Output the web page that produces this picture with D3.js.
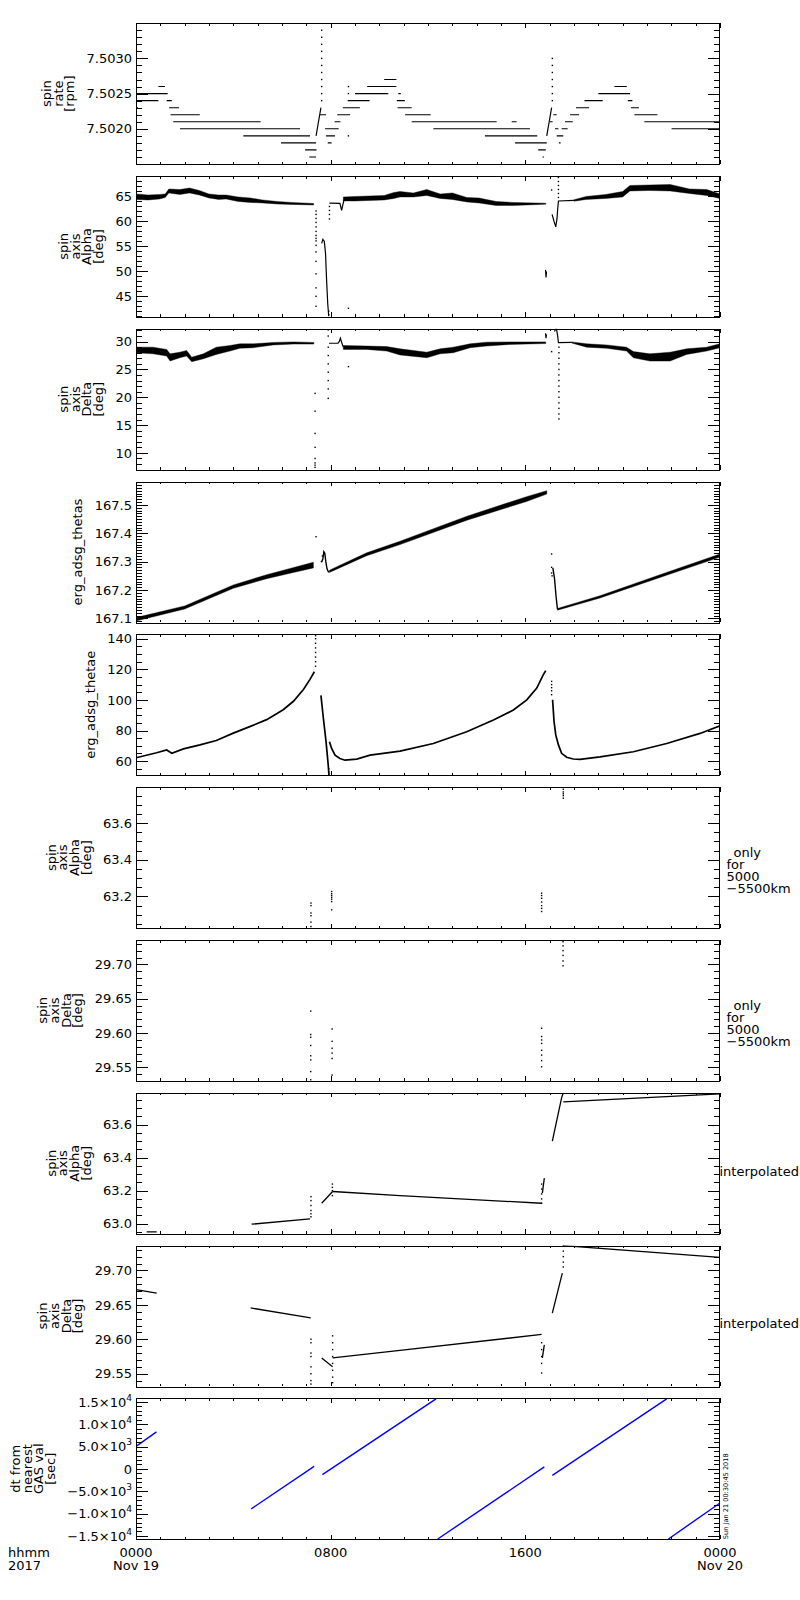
<!DOCTYPE html>
<html><head><meta charset="utf-8">
<script src="https://cdn.jsdelivr.net/npm/d3@7/dist/d3.min.js"></script>
<style>
body{margin:0;background:#fff}
svg{display:block;background:#fff}
text{font-family:"DejaVu Sans",sans-serif;font-size:13px;fill:#000}
</style>
</head><body>
<svg id="chart" width="800" height="1600"></svg>
<script>
// ---------------- DATA (hours since 2017-11-19 00:00) ----------------
const xMajorHours = [0, 8, 16, 24];
const xTickLabels = [["0000","Nov 19"],["0800"],["1600"],["0000","Nov 20"]];
const xCornerLabel = ["hhmm","2017"];
const stampText = "Sun Jan 21 00:30:45 2018";

const panelTitles = [
  ["spin","rate","[rpm]"],
  ["spin","axis","Alpha","[deg]"],
  ["spin","axis","Delta","[deg]"],
  ["erg_adsg_thetas"],
  ["erg_adsg_thetae"],
  ["spin","axis","Alpha","[deg]"],
  ["spin","axis","Delta","[deg]"],
  ["spin","axis","Alpha","[deg]"],
  ["spin","axis","Delta","[deg]"],
  ["dt from","nearest","GAS val","[sec]"]
];
const yDomains = [[7.5015,7.5035],[40.9,69.1],[7.0,32.3],[167.086,167.582],[50.8,142.8],
  [63.028,63.796],[29.5306,29.7355],[62.94,63.793],[29.5316,29.736],[-15740,15800]];
const yMajorTicks = [[7.5020,7.5025,7.5030],[45,50,55,60,65],[10,15,20,25,30],
  [167.1,167.2,167.3,167.4,167.5],[60,80,100,120,140],[63.2,63.4,63.6],
  [29.55,29.60,29.65,29.70],[63.0,63.2,63.4,63.6],[29.55,29.60,29.65,29.70],
  [-15000,-10000,-5000,0,5000,10000,15000]];
const yMinorSteps = [0.0001,1,1,0.01,5,0.05,0.01,0.05,0.01,1000];
const yDecimals = [4,0,0,1,0,1,2,1,2,null];
const dtTickLabels = [["−1.5×10","4"],["−1.0×10","4"],["−5.0×10","3"],["0",""],["5.0×10","3"],["1.0×10","4"],["1.5×10","4"]];
const sideNotes = {5:["only","for","5000","−5500km"], 6:["only","for","5000","−5500km"], 7:["interpolated"], 8:["interpolated"]};

// Panel 1: spin rate quantised steps [hStart, hEnd, rpm]
const spinRateSteps = [
 [0.00,1.30,7.5025],[0.92,1.19,7.5026],[0.00,0.92,7.5024],[1.26,1.47,7.5024],[0.00,0.08,7.5023],
 [1.36,1.77,7.5023],[1.42,2.62,7.5022],[1.53,5.12,7.5021],[1.81,6.74,7.5020],[4.41,7.15,7.5019],
 [5.96,7.40,7.5018],[6.95,7.42,7.5017],[7.12,7.40,7.5016],
 [7.56,7.81,7.5022],[7.77,8.33,7.5020],[7.81,8.18,7.5019],[7.88,8.04,7.5018],[8.16,8.40,7.5021],
 [8.27,8.80,7.5022],[8.50,9.20,7.5023],[8.70,9.60,7.5024],[9.00,10.37,7.5025],[9.50,10.70,7.5026],
 [10.20,10.70,7.5027],[10.78,10.88,7.5025],[10.72,11.05,7.5024],[10.75,11.33,7.5023],
 [11.06,12.11,7.5022],[11.33,14.82,7.5021],[15.44,15.64,7.5021],[12.22,16.19,7.5020],
 [14.34,16.49,7.5019],[15.58,16.88,7.5018],[16.53,16.84,7.5017],[16.71,16.77,7.5016],
 [17.01,17.12,7.5021],[17.15,17.29,7.5022],[17.22,17.36,7.5020],[17.29,17.56,7.5019],
 [17.38,17.45,7.5018],[17.49,17.74,7.5020],[17.63,17.95,7.5021],[17.84,18.21,7.5022],
 [18.08,18.62,7.5023],[18.43,19.18,7.5024],[19.00,20.30,7.5025],[19.66,20.17,7.5026],
 [20.21,20.40,7.5024],[20.34,20.67,7.5023],[20.48,21.43,7.5022],[20.89,24.00,7.5021],[22.01,24.00,7.5020]
];
const spinRateRises = [
 [[7.40,7.5019],[7.50,7.5021],[7.60,7.5023]],
 [[16.88,7.5019],[16.98,7.5021],[17.08,7.5023]]
];
const spinRateDots = [
 [7.63,[7.5034,7.5033,7.5032,7.5031,7.5030,7.5029,7.5028,7.5027,7.5026,7.5025,7.5024]],
 [17.11,[7.5030,7.5029,7.5028,7.5027,7.5026,7.5025,7.5024]],
 [8.73,[7.5026,7.5025,7.5019]]
];

// Panel 2: spin axis Alpha [h, low, high]
const alphaBands = [
 [[0.0,64.4,65.5],[0.5,64.3,65.3],[0.97,64.5,65.4],[1.2,64.8,65.5],[1.35,65.7,66.5],[1.8,65.4,66.4],
  [2.2,65.7,66.7],[2.6,65.3,66.2],[3.0,64.7,65.5],[3.4,64.4,65.3],[3.7,64.5,65.3],[4.2,64.0,64.9],
  [4.7,63.8,64.7],[5.2,63.7,64.3],[5.8,63.5,64.0],[6.4,63.4,63.8],[7.3,63.3,63.6]],
 [[8.52,64.1,64.9],[9.0,64.1,65.0],[9.6,64.2,65.1],[10.2,64.3,65.2],[10.6,64.6,65.8],[10.85,64.9,66.0],
  [11.4,64.9,65.7],[11.95,65.2,66.4],[12.5,64.6,65.5],[13.0,64.4,65.7],[13.6,63.9,64.8],[14.1,63.7,64.7],
  [14.8,63.2,64.0],[15.5,63.2,63.8],[16.84,63.45,63.65]],
 [[18.0,64.05,64.35],[18.5,64.4,65.0],[19.3,64.6,65.4],[20.0,64.9,66.0],[20.3,66.1,67.2],[21.1,66.2,67.3],
  [21.95,66.1,67.4],[22.75,65.6,66.5],[23.45,65.2,66.4],[24.0,64.6,65.5]]
];
const alphaLines = [
 [[7.63,55.6],[7.68,56.4],[7.74,56.0],[7.79,53.5],[7.83,48.5],[7.88,43.5],[7.92,41.0]],
 [[7.95,63.65],[8.38,63.6],[8.45,62.2],[8.50,63.3],[8.55,64.3]],
 [[17.10,61.4],[17.18,60.0],[17.25,58.9],[17.30,60.5],[17.33,62.5],[17.36,64.1],[18.0,64.2]],
 [[16.83,50.3],[16.85,48.8],[16.87,50.0]]
];
const alphaDots = [
 [7.40,[62.1,61.4,60.6,59.8,58.9,58.0,57.2,56.6,56.1,55.2,53.9,52.0,49.5,46.7,45.0,43.0]],
 [7.95,[63.0,62.2,61.4,60.5]],
 [7.92,[42.0,41.3]],
 [8.73,[42.6]],
 [17.08,[66.3]],
 [17.36,[64.8,65.6,66.4,67.2,68.0,68.8]]
];

// Panel 3: spin axis Delta [h, low, high]
const deltaBands = [
 [[0,28.0,29.0],[0.7,27.8,29.0],[1.26,27.4,28.6],[1.4,26.5,27.8],[1.8,27.1,28.1],[2.08,27.4,28.4],
  [2.29,26.4,27.2],[2.77,26.9,27.8],[3.3,27.7,29.0],[3.86,28.3,29.3],[4.27,28.8,29.6],[4.82,28.9,29.6],
  [5.64,29.4,29.85],[6.47,29.55,29.95],[7.31,29.55,29.85]],
 [[8.52,28.6,29.3],[9.48,28.6,29.2],[10.3,28.3,29.1],[10.85,27.6,28.7],[11.95,27.1,28.1],[12.5,27.8,28.7],
  [13.04,28.0,29.0],[13.73,28.9,29.6],[14.4,29.2,29.9],[15.37,29.5,29.95],[16.84,29.65,29.95]],
 [[17.9,29.75,29.95],[18.52,29.0,29.6],[19.34,28.8,29.4],[20.16,28.3,29.0],[20.44,27.1,28.2],[21.12,26.5,27.8],
  [21.95,26.5,28.1],[22.63,27.7,28.7],[23.45,28.3,29.0],[24.0,28.9,29.6]]
];
const deltaLines = [
 [[7.93,29.7],[8.30,29.7],[8.35,30.0],[8.40,30.6],[8.47,29.6],[8.52,29.0]],
 [[17.20,31.8],[17.25,32.3],[17.28,32.3],[17.33,31.0],[17.36,29.8],[17.90,29.85]],
 [[16.83,31.5],[16.85,30.6],[16.87,31.3]]
];
const deltaDots = [
 [7.36,[20.7,17.5,13.5,11.0,9.0,8.2,7.8,7.4]],
 [7.90,[32.1,31.0,29.0,27.5,26.0,24.5,23.0,21.5,19.8]],
 [8.73,[25.5]],
 [17.08,[28.2]],
 [17.38,[29.0,28.0,27.0,26.0,25.0,24.0,23.0,22.0,21.0,20.0,19.0,18.0,17.0,16.1]]
];

// Panel 4: erg_adsg_thetas [h, low, high]
const thetasBands = [
 [[0,167.091,167.103],[2.0,167.133,167.144],[4.0,167.206,167.218],[5.37,167.240,167.254],
  [6.33,167.259,167.276],[7.29,167.278,167.298]],
 [[7.95,167.262,167.270],[9.48,167.321,167.331],[10.85,167.360,167.372],[13.6,167.446,167.460],
  [16.05,167.512,167.529],[16.88,167.538,167.550]],
 [[17.32,167.129,167.135],[19.07,167.172,167.180],[21.8,167.252,167.262],[24.0,167.316,167.327]]
];
const thetasLines = [
 [[7.63,167.299],[7.68,167.31],[7.72,167.335],[7.76,167.33],[7.80,167.30],[7.85,167.275],[7.92,167.262]],
 [[17.13,167.278],[17.20,167.24],[17.26,167.18],[17.32,167.133]]
];
const thetasDots = [
 [7.40,[167.388]], [7.62,[167.30]], [7.66,[167.32]],
 [17.08,[167.327,167.28,167.26]], [17.10,[167.25]]
];

// Panel 5: erg_adsg_thetae
const thetaeLines = [
 [[0,62.2],[0.85,65.5],[1.26,67.3],[1.47,65.1],[1.95,68.0],[2.63,70.6],[3.3,73.5],[4.0,78.3],[4.7,82.7],
  [5.37,87.1],[6.05,93.6],[6.47,99.1],[6.88,106.8],[7.15,113.4],[7.33,118.4]],
 [[7.60,102.9],[7.70,88.0],[7.81,72.7],[7.90,57.3],[7.93,50.8]],
 [[7.95,72.7],[8.04,68.3],[8.18,63.9],[8.38,61.7],[8.59,60.6],[9.07,61.3],[9.62,63.9],[10.16,65.0],
  [10.85,66.5],[12.22,71.5],[13.59,79.2],[14.69,86.9],[15.51,93.4],[16.06,100.0],[16.47,107.7],
  [16.74,116.5],[16.84,119.1]],
 [[17.12,100.1],[17.18,85.9],[17.25,77.1],[17.36,70.6],[17.49,65.1],[17.70,62.5],[17.97,61.4],
  [18.25,61.2],[19.07,62.8],[20.44,66.1],[21.81,71.5],[23.18,78.1],[24.0,83.1]]
];
const thetaeDots = [
 [7.38,[122,125,128,131,134,137,140,142]],
 [17.08,[112.1,110,108,106,103.4]],
 [7.92,[55,53,51.5]]
];

// Panel 6: Alpha only for 5000-5500 km
const alphaOnlyDots = [
 [7.19,[63.164,63.150,63.110,63.095,63.060,63.036]],
 [8.04,[63.227,63.215,63.205,63.195,63.185,63.172,63.127]],
 [16.67,[63.218,63.205,63.190,63.170,63.150,63.135,63.118]],
 [17.56,[63.785,63.770,63.760,63.750,63.736]]
];
// Panel 7: Delta only for 5000-5500 km
const deltaOnlyDots = [
 [7.18,[29.632,29.598,29.594,29.582,29.567,29.561,29.544,29.532]],
 [8.06,[29.606,29.588,29.578,29.571,29.563,29.539]],
 [16.67,[29.607,29.595,29.590,29.585,29.575,29.568,29.560,29.551]],
 [17.55,[29.733,29.727,29.720,29.713,29.705,29.698]]
];
// Panel 8: Alpha interpolated
const alphaInterpLines = [
 [[0.44,62.95],[0.85,62.95]],
 [[4.75,62.997],[7.15,63.029]],
 [[7.63,63.124],[8.08,63.195]],
 [[8.08,63.195],[10.85,63.17],[16.67,63.124]],
 [[16.70,63.185],[16.78,63.276]],
 [[17.11,63.50],[17.49,63.762],[17.56,63.793]],
 [[17.56,63.738],[24.0,63.787]]
];
const alphaInterpDots = [
 [7.19,[63.164,63.14,63.11,63.08,63.06,63.042]],
 [8.07,[63.24,63.22,63.20,63.17]],
 [16.67,[63.24,63.21,63.18,63.15,63.124]]
];
// Panel 9: Delta interpolated
const deltaInterpLines = [
 [[0,29.672],[0.85,29.667]],
 [[4.71,29.6455],[7.18,29.631]],
 [[7.63,29.573],[8.08,29.560]],
 [[8.08,29.573],[10.85,29.584],[16.67,29.607]],
 [[16.70,29.573],[16.78,29.592]],
 [[17.11,29.638],[17.52,29.696]],
 [[17.56,29.736],[24.0,29.719]]
];
const deltaInterpDots = [
 [7.19,[29.600,29.595,29.580,29.575,29.560,29.550,29.540,29.535]],
 [8.08,[29.605,29.595,29.585,29.575,29.565,29.555,29.545,29.537]],
 [16.67,[29.595,29.585,29.575,29.565,29.551]],
 [17.56,[29.736,29.728,29.720,29.712,29.705]]
];
// Panel 10: dt from nearest GAS value [sec]
const dtSegments = [
 [[0,5067],[0.84,8296]],
 [[4.73,-8969],[7.32,583]],
 [[7.66,-1278],[12.33,15700]],
 [[12.40,-15700],[16.78,448]],
 [[17.11,-1435],[21.81,15700]],
 [[21.88,-15700],[24.0,-7623]]
];

// ---------------- DRAWING ----------------
const svg = d3.select("#chart");
const defs = svg.append("defs");
const X0 = 136, X1 = 720, TOP0 = 23.2, PITCH = 152.8, PH = 140.8;
const x = d3.scaleLinear().domain([0,24]).range([X0,X1]);

function drawSteps(g,y,data){
  g.selectAll(null).data(data).join("line")
   .attr("x1",d=>x(d[0])).attr("x2",d=>x(d[1])).attr("y1",d=>y(d[2])).attr("y2",d=>y(d[2]))
   .attr("stroke","#000").attr("stroke-width",1.1);
}
function drawLines(g,y,data,color,w){
  const ln = d3.line().x(d=>x(d[0])).y(d=>y(d[1]));
  g.selectAll(null).data(data).join("path").attr("d",ln)
   .attr("fill","none").attr("stroke",color||"#000").attr("stroke-width",w||1.2);
}
function drawBands(g,y,data){
  const ar = d3.area().x(d=>x(d[0])).y0(d=>y(d[1])).y1(d=>y(d[2]));
  g.selectAll(null).data(data).join("path").attr("d",ar)
   .attr("fill","#000").attr("stroke","#000").attr("stroke-width",0.4);
}
function drawDots(g,y,groups){
  const pts=[]; groups.forEach(([h,vs])=>vs.forEach(v=>pts.push([h,v])));
  g.selectAll(null).data(pts).join("rect")
   .attr("x",d=>x(d[0])-0.7).attr("y",d=>y(d[1])-0.7).attr("width",1.4).attr("height",1.4).attr("fill","#000");
}

const markers = [
  (g,y)=>{drawSteps(g,y,spinRateSteps); drawLines(g,y,spinRateRises); drawDots(g,y,spinRateDots);},
  (g,y)=>{drawBands(g,y,alphaBands); drawLines(g,y,alphaLines); drawDots(g,y,alphaDots);},
  (g,y)=>{drawBands(g,y,deltaBands); drawLines(g,y,deltaLines); drawDots(g,y,deltaDots);},
  (g,y)=>{drawBands(g,y,thetasBands); drawLines(g,y,thetasLines,"#000",1.4); drawDots(g,y,thetasDots);},
  (g,y)=>{drawLines(g,y,thetaeLines,"#000",1.7); drawDots(g,y,thetaeDots);},
  (g,y)=>{drawDots(g,y,alphaOnlyDots);},
  (g,y)=>{drawDots(g,y,deltaOnlyDots);},
  (g,y)=>{drawLines(g,y,alphaInterpLines,"#000",1.3); drawDots(g,y,alphaInterpDots);},
  (g,y)=>{drawLines(g,y,deltaInterpLines,"#000",1.3); drawDots(g,y,deltaInterpDots);},
  (g,y)=>{drawLines(g,y,dtSegments,"#0000ff",1.4);}
];

panelTitles.forEach((title,i)=>{
  const top = TOP0 + i*PITCH, bot = top + PH;
  const dom = yDomains[i];
  const y = d3.scaleLinear().domain(dom).range([bot,top]);
  const g = svg.append("g");
  defs.append("clipPath").attr("id","cp"+i).append("rect")
    .attr("x",X0).attr("y",top).attr("width",X1-X0).attr("height",PH);
  const gm = g.append("g").attr("clip-path",`url(#cp${i})`);
  markers[i](gm,y);

  // y ticks (both sides)
  const step = yMinorSteps[i];
  const k0 = Math.ceil(dom[0]/step - 1e-6), k1 = Math.floor(dom[1]/step + 1e-6);
  const minors = d3.range(k0,k1+1).map(k=>k*step)
    .filter(v=>!yMajorTicks[i].some(m=>Math.abs(m-v)<step*0.01));
  const tk = g.append("g").attr("stroke","#000").attr("stroke-width",1).attr("shape-rendering","crispEdges");
  const ty = v=>Math.round(y(v))+0.5;
  minors.forEach(v=>{
    tk.append("line").attr("x1",X0).attr("x2",X0+6).attr("y1",ty(v)).attr("y2",ty(v));
    tk.append("line").attr("x1",X1).attr("x2",X1-6).attr("y1",ty(v)).attr("y2",ty(v));
  });
  yMajorTicks[i].forEach(v=>{
    tk.append("line").attr("x1",X0).attr("x2",X0+12).attr("y1",ty(v)).attr("y2",ty(v));
    tk.append("line").attr("x1",X1).attr("x2",X1-12).attr("y1",ty(v)).attr("y2",ty(v));
  });
  // x ticks (top & bottom)
  d3.range(0,25).forEach(h=>{
    const len = xMajorHours.includes(h) ? 4.5 : 2.5;
    const xx = Math.round(x(h))+0.5;
    tk.append("line").attr("x1",xx).attr("x2",xx).attr("y1",bot).attr("y2",bot-len);
    tk.append("line").attr("x1",xx).attr("x2",xx).attr("y1",top).attr("y2",top+len);
  });

  // tick labels
  const lab = g.append("g");
  let tickLeft = X0;
  yMajorTicks[i].forEach((v,j)=>{
    const t = lab.append("text").attr("x",X0-4).attr("y",y(v)).attr("dy","0.36em").attr("text-anchor","end");
    if (yDecimals[i]===null){
      const [m,e] = dtTickLabels[j];
      t.append("tspan").text(m);
      if (e) t.append("tspan").attr("dy",-6).attr("font-size","9px").text(e);
    } else {
      t.text(v.toFixed(yDecimals[i]));
    }
    const bb = t.node().getBBox();
    tickLeft = Math.min(tickLeft, bb.x);
  });

  // y title (rotated, stacked lines)
  const n = title.length, LS = 11.7;
  const tx = tickLeft - 12.3 - (n-1)*LS;
  const tt = g.append("text").attr("transform",`translate(${tx},${(top+bot)/2}) rotate(-90)`).attr("text-anchor","middle");
  title.forEach((s,k)=>tt.append("tspan").attr("x",0).attr("y",k*LS).text(s));

  // side notes
  if (sideNotes[i]){
    const lines = sideNotes[i];
    if (lines.length===1){
      g.append("text").attr("x",X1-0.5).attr("y",top+82.7).text(lines[0]);
    } else {
      lines.forEach((s,k)=>g.append("text").attr("x",X1+6.5+(k===0?7:0)).attr("y",top+69.7+k*12).text(s));
    }
  }

  // frame
  g.append("rect").attr("x",X0+0.5).attr("y",Math.round(top)+0.5).attr("width",X1-X0-1).attr("height",Math.round(PH))
   .attr("fill","none").attr("stroke","#000").attr("stroke-width",1.2).attr("shape-rendering","crispEdges");

  // bottom axis labels
  if (i===panelTitles.length-1){
    xMajorHours.forEach((h,j)=>{
      xTickLabels[j].forEach((s,k)=>g.append("text").attr("x",x(h)).attr("y",bot+17.7+k*12.7).attr("text-anchor","middle").text(s));
    });
    xCornerLabel.forEach((s,k)=>g.append("text").attr("x",8).attr("y",bot+17.7+k*12.7).text(s));
    g.append("text").attr("transform",`translate(${X1+7.5},${bot}) rotate(-90)`).style("font-size","6.6px").text(stampText);
  }
});
</script>
</body></html>
